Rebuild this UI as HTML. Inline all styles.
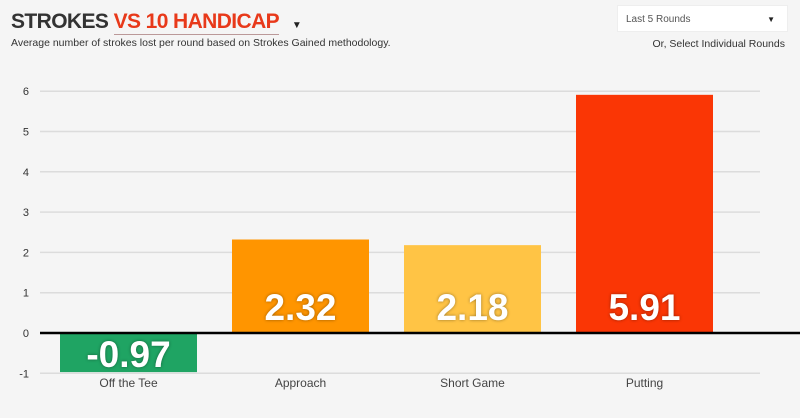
<!DOCTYPE html>
<html><head><meta charset="utf-8"><style>
body{margin:0;width:800px;height:418px;background:#f5f5f5;font-family:"Liberation Sans",sans-serif;overflow:hidden;position:relative}
.t{position:absolute;left:11px;top:10px;font-size:21px;font-weight:bold;color:#333;letter-spacing:-0.6px}
.t span{color:#e8391a;border-bottom:1px solid #b99;padding-bottom:1px}
.sub{position:absolute;left:11px;top:37px;font-size:10.5px;color:#333}
.dd{position:absolute;left:617px;top:5px;width:171px;height:27px;background:#fff;border:1px solid #eee;font-size:10px;color:#555;line-height:27px;padding-left:8px;box-sizing:border-box}
.or{position:absolute;right:15px;top:38px;font-size:10.5px;color:#333}
</style></head><body>
<div class="t">STROKES <span>VS 10 HANDICAP</span> <span style="font-size:10px;color:#222;border:none;margin-left:8px">▼</span></div>
<div class="sub">Average number of strokes lost per round based on Strokes Gained methodology.</div>
<div class="dd">Last 5 Rounds<span style="position:absolute;right:12px;font-size:8px;color:#222">▼</span></div>
<div class="or">Or, Select Individual Rounds</div>
<svg id="c" width="800" height="418" style="position:absolute;left:0;top:0"></svg>
<script>
const categories=["Off the Tee","Approach","Short Game","Putting"];
const values=[-0.97,2.32,2.18,5.91];
const labels=["-0.97","2.32","2.18","5.91"];
const colors=["#1fa463","#ff9500","#ffc445","#fa3605"];
const ticks=[-1,0,1,2,3,4,5,6];
const svg=document.getElementById('c');
const NS='http://www.w3.org/2000/svg';
const y=v=>333-v*40.3;
const x0=42.5,step=172,bw=137;
const bx=i=>x0+i*step+(step-bw)/2;
function mk(t,a,p){const e=document.createElementNS(NS,t);for(const k in a)e.setAttribute(k,a[k]);(p||svg).appendChild(e);return e;}
ticks.forEach(t=>{
  const l=mk('line',{x1:40,x2:760,y1:y(t),y2:y(t),stroke:'#dcdcdc','stroke-width':1.5});
  
  
  const tx=mk('text',{x:29,y:y(t)+4,'text-anchor':'end','font-size':11,fill:'#333','font-family':'Liberation Sans'});
  tx.textContent=t;
  
  
});
values.forEach((v,i)=>{
  const r=mk('rect',{x:bx(i),y:Math.min(y(v),y(0)),width:bw,height:Math.abs(y(v)-y(0)),fill:colors[i]});
  
  
  const ly=v>=0?y(0)-13:y(0)+34;
  const t=mk('text',{x:bx(i)+bw/2,y:ly,'text-anchor':'middle','font-size':37,'font-weight':'bold',fill:'#fff','font-family':'Liberation Sans',style:'text-shadow:0 0 3px rgba(0,0,0,.4)'});
  t.textContent=labels[i];
  
  
  const c=mk('text',{x:bx(i)+bw/2,y:387,'text-anchor':'middle','font-size':12,fill:'#444','font-family':'Liberation Sans'});
  c.textContent=categories[i];
  
  
});
const z=mk('line',{x1:40,x2:800,y1:y(0),y2:y(0),stroke:'#000','stroke-width':2.5});


</script>
</body></html>
